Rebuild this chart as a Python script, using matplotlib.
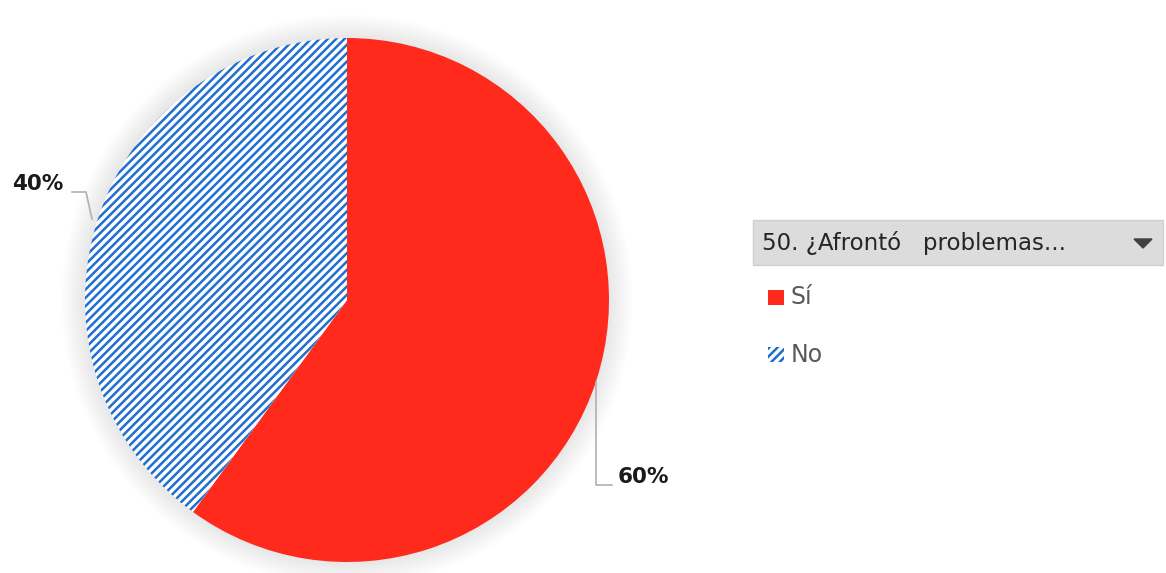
import matplotlib.pyplot as plt
import matplotlib.patches as mpatches

plt.rcParams['hatch.linewidth'] = 1.8

categories = ['Sí', 'No']
values = [60, 40]
pct_labels = ['60%', '40%']
legend_title = '50. ¿Afrontó   problemas...'

W, H = 1166, 573
fig = plt.figure(figsize=(W / 100, H / 100), dpi=100)
ax = fig.add_axes([0, 0, 1, 1])

cx, cy, r = 347, H - 300, 262

# soft shadow round the pie
for i in range(24):
    ax.add_patch(mpatches.Circle((cx, cy), r + 24 - i, color='black', alpha=0.0035, lw=0, zorder=0))

wedges, _ = ax.pie(values, startangle=90, counterclock=False, center=(cx, cy), radius=r,
                   colors=['#ff2a1c', 'white'], wedgeprops=dict(linewidth=0))
wedges[1].set_hatch('////')
wedges[1].set_edgecolor('#1f6fd0')
wedges[1].set_linewidth(0)

# leader lines and labels
ax.plot([72, 86, 92], [H - 192, H - 192, H - 219], color='#b0b0b0', lw=1.2)
ax.text(12, H - 184, pct_labels[1], fontsize=15.5, fontweight='bold', color='#1a1a1a', va='center')
ax.plot([596, 596, 612], [H - 382, H - 485, H - 485], color='#b0b0b0', lw=1.2)
ax.text(618, H - 477, pct_labels[0], fontsize=15.5, fontweight='bold', color='#1a1a1a', va='center')

# legend header bar
ax.add_patch(mpatches.Rectangle((753, H - 265), 410, 45, facecolor='#dcdcdc', edgecolor='#cfcfcf', lw=1))
ax.text(762, H - 243, legend_title, fontsize=16.5, color='#262626', va='center')
ax.add_patch(mpatches.Polygon([[1134, H - 239], [1152, H - 239], [1143, H - 248]], color='#404040'))

# legend entries
ax.add_patch(mpatches.Rectangle((768, H - 305), 16, 15, facecolor='#ff2a1c', lw=0))
ax.text(791, H - 297, categories[0], fontsize=17, color='#595959', va='center')
ax.add_patch(mpatches.Rectangle((768, H - 362), 16, 15, facecolor='white', hatch='////',
                                edgecolor='#1f6fd0', lw=0))
ax.text(791, H - 355, categories[1], fontsize=17, color='#595959', va='center')

ax.set_xlim(0, W)
ax.set_ylim(0, H)
ax.set_aspect('equal')
ax.axis('off')

fig.savefig('out.png', dpi=100)
